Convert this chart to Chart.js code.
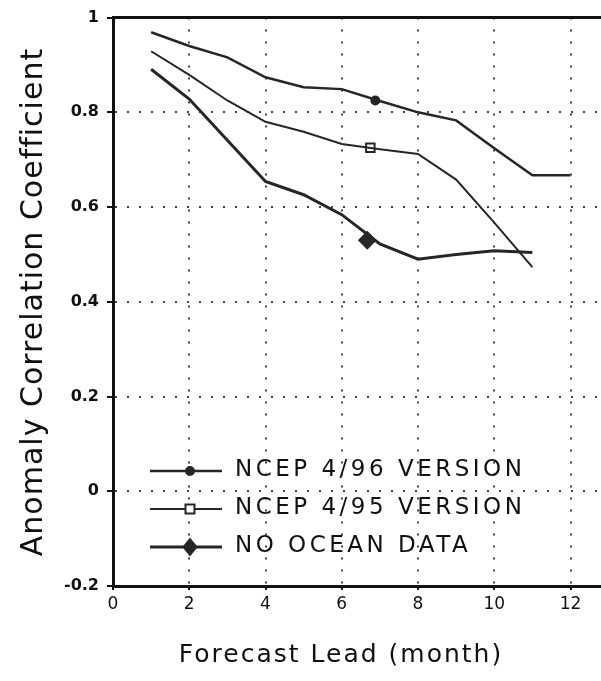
<!DOCTYPE html>
<html>
<head>
<meta charset="utf-8">
<script src="https://cdn.jsdelivr.net/npm/chart.js@4.4.0/dist/chart.umd.min.js"></script>
<style>
  html, body { margin: 0; padding: 0; background: #fff; }
  #wrap { width: 601px; height: 681px; position: relative; }
</style>
</head>
<body>
<div id="wrap"><canvas id="grafico" width="601" height="681"></canvas></div>
<script>
// forecast lead (month) and anomaly correlation per series
const meses = [1, 2, 3, 4, 5, 6, 7, 8, 9, 10, 11, 12];
const ncep96 = [0.969, 0.94, 0.916, 0.874, 0.853, 0.849, 0.824, 0.80, 0.783, 0.724, 0.667, 0.667];
const ncep95 = [0.929, 0.879, 0.825, 0.78, 0.759, 0.733, 0.722, 0.712, 0.658, 0.567, 0.473];
const semOceano = [0.891, 0.828, 0.741, 0.654, 0.626, 0.584, 0.522, 0.49, 0.50, 0.508, 0.504];

// one marker on each curve
const marcadorX = [6.88, 6.75, 6.67];
const marcadorY = [0.825, 0.725, 0.53];

const nomes = ['NCEP 4/96 VERSION', 'NCEP 4/95 VERSION', 'NO OCEAN DATA'];
const xTicks = [0, 2, 4, 6, 8, 10, 12];
const yTicks = [-0.2, 0, 0.2, 0.4, 0.6, 0.8, 1];
const yTickLabels = ['-0.2', '0', '0.2', '0.4', '0.6', '0.8', '1'];

const cor = '#262626';
const larguras = [2.5, 2, 3];
const estilos = ['circle', 'rect', 'rectRot'];
const raios = [4, 6, 8];
const fundos = [cor, '#ffffff', cor];

function pares(xs, ys) {
  return ys.map((v, i) => ({ x: xs[i], y: v }));
}

const series = [ncep96, ncep95, semOceano];
const datasets = [];
series.forEach((s, i) => {
  datasets.push({
    label: nomes[i],
    data: pares(meses, s),
    borderColor: cor,
    borderWidth: larguras[i],
    pointRadius: 0,
    tension: 0,
    fill: false
  });
});
series.forEach((s, i) => {
  datasets.push({
    label: nomes[i] + ' marker',
    data: [{ x: marcadorX[i], y: marcadorY[i] }],
    showLine: false,
    pointStyle: estilos[i],
    pointRadius: raios[i],
    pointBackgroundColor: fundos[i],
    pointBorderColor: cor,
    pointBorderWidth: 2
  });
});

function desenhaMarcador(ctx, estilo, x, y, r, fundo) {
  ctx.beginPath();
  if (estilo === 'circle') {
    ctx.arc(x, y, r, 0, Math.PI * 2);
  } else if (estilo === 'rect') {
    ctx.rect(x - r * 0.75, y - r * 0.75, r * 1.5, r * 1.5);
  } else {
    ctx.moveTo(x, y - r);
    ctx.lineTo(x + r * 0.8, y);
    ctx.lineTo(x, y + r);
    ctx.lineTo(x - r * 0.8, y);
    ctx.closePath();
  }
  ctx.fillStyle = fundo;
  ctx.fill();
  ctx.lineWidth = 2;
  ctx.strokeStyle = cor;
  ctx.stroke();
}

const extras = {
  id: 'extras',
  afterDraw(chart) {
    const ctx = chart.ctx;
    const area = chart.chartArea;
    ctx.save();

    // top frame line
    ctx.strokeStyle = '#111';
    ctx.lineWidth = 3;
    ctx.beginPath();
    ctx.moveTo(area.left, area.top);
    ctx.lineTo(chart.width, area.top);
    ctx.stroke();

    // legend
    const linhasY = [471, 509, 547];
    ctx.font = '23px "DejaVu Sans"';
    ctx.letterSpacing = '3.5px';
    ctx.textBaseline = 'middle';
    ctx.fillStyle = '#111';
    nomes.forEach((nome, i) => {
      const y = linhasY[i];
      ctx.strokeStyle = cor;
      ctx.lineWidth = larguras[i];
      ctx.beginPath();
      ctx.moveTo(150, y);
      ctx.lineTo(222, y);
      ctx.stroke();
      desenhaMarcador(ctx, estilos[i], 190, y, raios[i], fundos[i]);
      ctx.fillStyle = '#111';
      ctx.fillText(nome, 235, y - 1);
    });

    // axis titles
    ctx.font = '25px "DejaVu Sans"';
    ctx.letterSpacing = '2px';
    ctx.textAlign = 'center';
    ctx.textBaseline = 'alphabetic';
    ctx.fillText('Forecast Lead (month)', 341, 662);

    ctx.translate(42, 302);
    ctx.rotate(-Math.PI / 2);
    ctx.font = '30px "DejaVu Sans"';
    ctx.letterSpacing = '1px';
    ctx.fillText('Anomaly Correlation Coefficient', 0, 0);
    ctx.restore();
  }
};

const ctx = document.getElementById('grafico').getContext('2d');
new Chart(ctx, {
  type: 'line',
  data: { datasets },
  options: {
    responsive: false,
    animation: false,
    events: [],
    layout: { autoPadding: false, padding: { top: 13, right: 0, left: 0, bottom: 0 } },
    plugins: { legend: { display: false }, tooltip: { enabled: false } },
    scales: {
      x: {
        type: 'linear',
        min: 0,
        max: 12.8,
        afterBuildTicks: (scale) => { scale.ticks = xTicks.map(v => ({ value: v })); },
        afterFit: (scale) => { scale.height = 95; },
        ticks: {
          color: '#111',
          font: { family: 'DejaVu Sans', size: 17 },
          padding: 4,
          maxRotation: 0,
          callback: (v) => String(v)
        },
        grid: {
          color: '#444',
          lineWidth: 2,
          tickLength: 4,
          tickColor: '#111',
          tickWidth: 2
        },
        border: { display: true, color: '#111', width: 3, dash: [2, 10] }
      },
      y: {
        min: -0.2,
        max: 1,
        afterBuildTicks: (scale) => { scale.ticks = yTicks.map(v => ({ value: v })); },
        afterFit: (scale) => { scale.width = 113; },
        ticks: {
          color: '#111',
          font: { family: 'DejaVu Sans', size: 16, weight: 'bold' },
          padding: 8,
          callback: (v) => yTickLabels[yTicks.findIndex(t => Math.abs(t - v) < 1e-6)]
        },
        grid: {
          color: '#444',
          lineWidth: 2,
          tickLength: 6,
          tickColor: '#111',
          tickWidth: 2
        },
        border: { display: true, color: '#111', width: 3, dash: [2, 10] }
      }
    }
  },
  plugins: [extras]
});
</script>
</body>
</html>
